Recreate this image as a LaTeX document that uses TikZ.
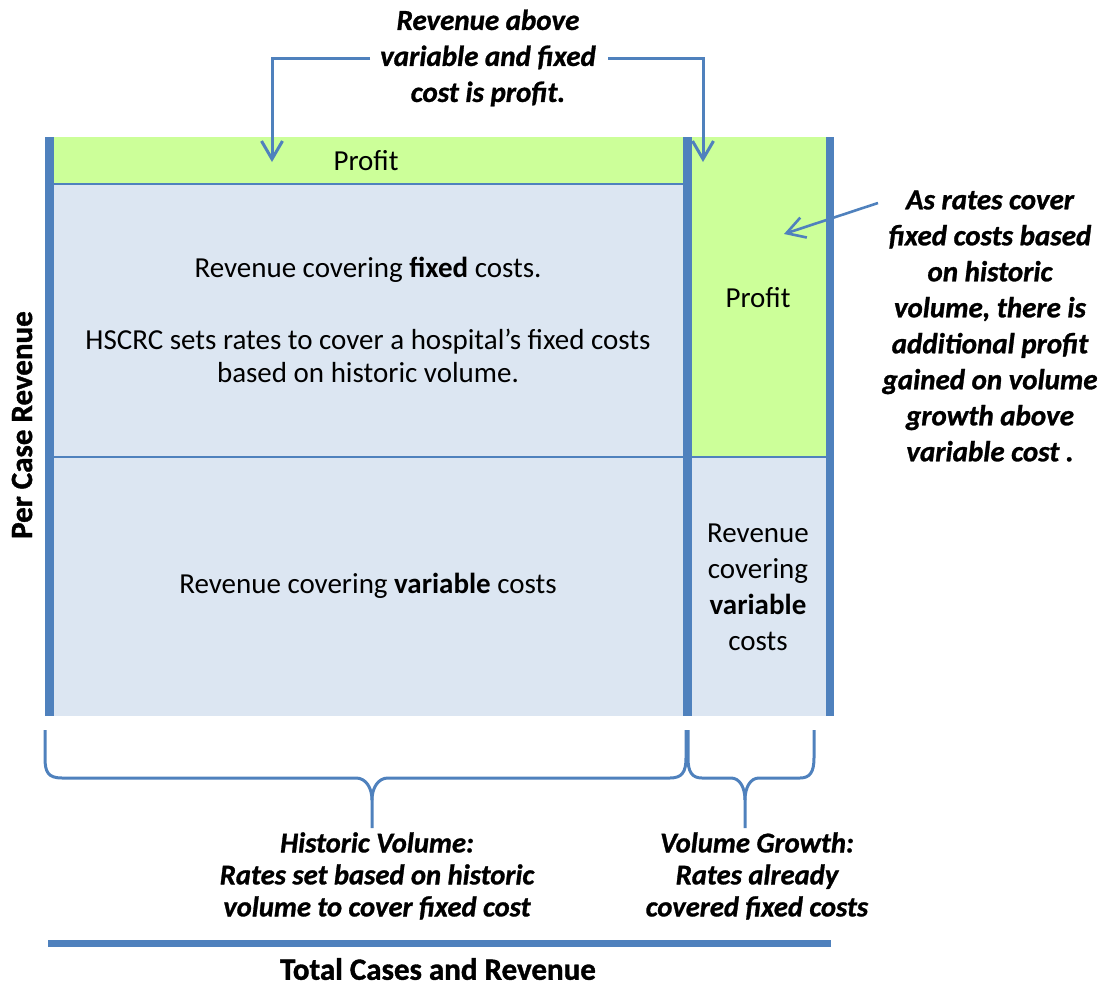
\documentclass[tikz,border=0pt]{standalone}
\usepackage{fontspec}
\setmainfont{Carlito}
\newfontface\notefont{Carlito Bold Italic}[FakeBold=1]
\newfontface\axisfont{Carlito Bold}[FakeBold=1.2]
\usetikzlibrary{arrows.meta}
\definecolor{barblue}{HTML}{4F81BD}
\definecolor{profitgreen}{HTML}{CCFF99}
\definecolor{costblue}{HTML}{DCE6F2}
\begin{document}
\begin{tikzpicture}[x=0.5pt,y=-0.5pt,
  bar/.style={fill=barblue},
  divider/.style={draw=barblue, line width=1pt},
  body/.style={font=\fontsize{14.5}{17.5}\selectfont, align=center, inner sep=0pt},
  note/.style={font=\fontsize{14.5}{18}\selectfont\notefont, align=center, inner sep=0pt},
  smallnote/.style={note, font=\fontsize{14.3}{16}\selectfont\notefont},
  axislabel/.style={font=\fontsize{15.5}{18}\selectfont\axisfont, inner sep=0pt},
  pointer/.style={draw=barblue, line width=1.5pt, -{Straight Barb[length=9pt,width=10.5pt]}},
  bracestroke/.style={draw=barblue, line width=1.5pt, line join=round}
]
\useasboundingbox (0,0) rectangle (1100,986);
% regions
\fill[profitgreen] (54,137) rectangle (683,184);
\fill[costblue] (54,184) rectangle (683,716);
\fill[profitgreen] (692,137) rectangle (826,457);
\fill[costblue] (692,457) rectangle (826,716);
\draw[divider] (54,184) -- (683,184);
\draw[divider] (54,457) -- (683,457);
\draw[divider] (692,457) -- (826,457);
% bars
\fill[bar] (45,137) rectangle (54,716);
\fill[bar] (683,137) rectangle (692,716);
\fill[bar] (826,137) rectangle (834,716);
\fill[bar] (48,940) rectangle (831,947);
% texts in regions
\node[body] (profitL) at (366,161) {Profit};
\node[body] (fixedtxt) at (368,270) {Revenue covering \textbf{fixed} costs.};
\node[body] (hscrc) at (368,356) {HSCRC sets rates to cover a hospital’s fixed costs\\[-1pt] based on historic volume.};
\node[body] (varL) at (368,586) {Revenue covering \textbf{variable} costs};
\node[body] (profitR) at (758,298) {Profit};
\node[body, font=\fontsize{14.5}{18}\selectfont] (varR) at (758,587) {Revenue\\covering\\\textbf{variable}\\costs};
% annotations
\node[note] (topnote) at (488,58) {Revenue above\\variable and fixed\\cost is profit.};
\node[note] (sidenote) at (990,326) {As rates cover\\fixed costs based\\on historic\\volume, there is\\additional profit\\gained on volume\\growth above\\variable cost .};
\node[smallnote] (histnote) at (377,876) {Historic Volume:\\Rates set based on historic\\volume to cover fixed cost};
\node[smallnote] (growthnote) at (757,876) {Volume Growth:\\Rates already\\covered fixed costs};
\node[axislabel, rotate=90] (yaxis) at (22,425) {Per Case Revenue};
\node[axislabel] (xaxis) at (438,969) {Total Cases and Revenue};
% pointers
\coordinate (tlstart) at (370,58);
\coordinate (tltip) at (272,162);
\coordinate (trstart) at (608,58);
\coordinate (trtip) at (703,162);
\coordinate (sstart) at (878,203);
\coordinate (stip) at (784,234);
\draw[pointer] (tlstart) -| (tltip);
\draw[pointer] (trstart) -| (trtip);
\draw[pointer, line width=1.3pt] (sstart) -- (stip);
% braces
\coordinate (hbtip) at (372,828);
\coordinate (gbtip) at (745,828);
\draw[bracestroke] (45,730) -- (45,758) .. controls (45,772) and (48,778) .. (62,778)
  -- (356,778) .. controls (366,778) and (372,788) .. (372,800) -- (hbtip);
\draw[bracestroke] (372,800) .. controls (372,788) and (378,778) .. (388,778)
  -- (670,778) .. controls (682,778) and (686,772) .. (686,758) -- (686,730);
\draw[bracestroke] (688,730) -- (688,758) .. controls (688,772) and (692,778) .. (702,778)
  -- (731,778) .. controls (740,778) and (745,788) .. (745,800) -- (gbtip);
\draw[bracestroke] (745,800) .. controls (745,788) and (750,778) .. (759,778)
  -- (800,778) .. controls (810,778) and (814,772) .. (814,758) -- (814,730);
\end{tikzpicture}
\end{document}
